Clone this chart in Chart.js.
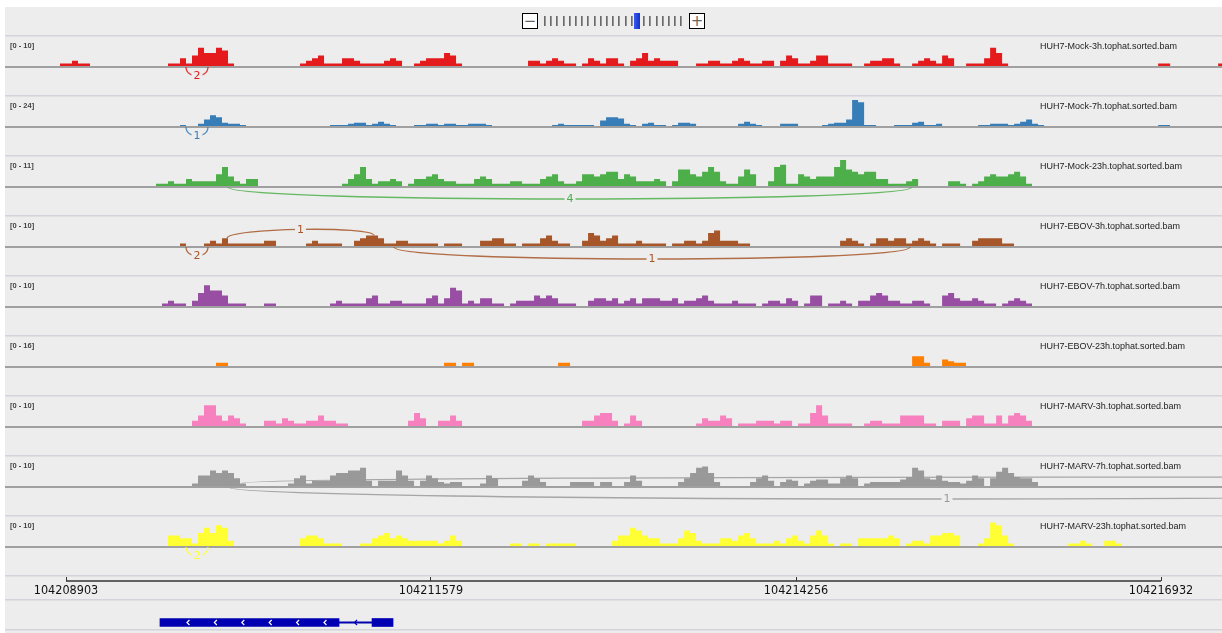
<!DOCTYPE html>
<html>
<head>
<meta charset="utf-8">
<script src="https://cdn.jsdelivr.net/npm/chart.js@4.4.0/dist/chart.umd.min.js"></script>
<style>
  body { margin: 0; width: 1222px; height: 633px; overflow: hidden; position: relative; background: #fff; }
  #panel { position: absolute; left: 5px; top: 7px; width: 1217px; height: 626px; background: #ededed; }
  canvas { position: absolute; left: 5px; }
  .zb { position: absolute; top: 13px; width: 14px; height: 14px; border: 1px solid #000; background: #fff;
        font: 15px/14px "DejaVu Sans", sans-serif; color: #666; text-align: center; }
  .zt { position: absolute; top: 16px; width: 2px; height: 10px; background: linear-gradient(90deg, #555, #aaa); }
  .zthumb { position: absolute; top: 13px; width: 6px; height: 16px; background: linear-gradient(90deg, #3b5cf0, #1330c8); }
</style>
</head>
<body>
<div id="panel"></div>
<div class="zb" style="left:522px">−</div>
<div id="zticks"></div>
<div class="zb" style="left:689px">+</div>
<script>
// coverage bins: 44 bp each, first bin starts here
const BIN_START = 104208859;
const BIN_SIZE = 44;

const rulerTicks = [104208903, 104211579, 104214256, 104216932];

const trackNames = [
  'HUH7-Mock-3h.tophat.sorted.bam',
  'HUH7-Mock-7h.tophat.sorted.bam',
  'HUH7-Mock-23h.tophat.sorted.bam',
  'HUH7-EBOV-3h.tophat.sorted.bam',
  'HUH7-EBOV-7h.tophat.sorted.bam',
  'HUH7-EBOV-23h.tophat.sorted.bam',
  'HUH7-MARV-3h.tophat.sorted.bam',
  'HUH7-MARV-7h.tophat.sorted.bam',
  'HUH7-MARV-23h.tophat.sorted.bam'
];
const trackRanges = [10, 24, 11, 10, 10, 16, 10, 10, 10];
const trackColors = ['#e41a1c', '#377eb8', '#4daf4a', '#a65628', '#984ea3', '#ff7f00', '#f781bf', '#999999', '#ffff33'];

const mock3h = [1,1,2,1,1, 0,0,0,0,0,0,0,0,0,0,0,0,0, 1,1,3,1,4,7,5,5,7,6,1, 0,0,0,0,0,0,0,0,0,0,0,
  1,2,3,4,1,1,1,3,3,2,1,1,1,1,2,3,2, 0,0, 1,2,3,3,3,5,4,1, 0,0,0,0,0,0,0,0,0,0,0, 2,2,1,2,3,2,1,1, 0,
  1,3,2,1,3,3,1, 0, 2,3,5,2,3,2,2,2, 0,0,0, 1,1,2,2,1,1,2,3,2,1,1,2,2, 0, 2,4,3,1,1,2,4,4,1,1,1,1, 0,0,
  1,2,2,3,3,1, 0,0, 1,2,3,2,1,4,3, 0,0, 1,1,1,3,7,5,1,
  0,0,0,0,0,0,0,0,0,0,0,0,0,0,0,0,0,0,0,0,0,0,0,0,0, 1,1, 0,0,0,0,0,0,0,0, 1];
const mock7h = [0,0,0,0,0,0,0,0,0,0,0,0,0,0,0,0,0,0,0,0, 1, 0,0, 2,6,10,8,3,2,2,1,
  0,0,0,0,0,0,0,0,0,0,0,0,0,0, 1,1,1,2,3,3,1,2,4,2,1, 0,0,0, 1,1,2,2,1,2,2,1,1,2,2,2,1,
  0,0,0,0,0,0,0,0,0,0, 1,2,1,1,1,1,1, 0, 5,8,8,7,2,1, 0, 2,3,1,1, 0, 1,3,3,2, 0,0,0,0,0,0,0,
  2,4,2,1, 0,0,0, 2,2,2, 0,0,0,0, 1,2,3,3,6,24,22,1,1, 0,0,0, 1,1,1,3,4,1,1,2, 0,0,0,0,0,0,
  1,1,2,2,2,1,2,4,6,2,1, 0,0,0,0,0,0,0,0,0,0,0,0,0,0,0,0,0,0,0, 1,1];
const mock23h = [0,0,0,0,0,0,0,0,0,0,0,0,0,0,0,0, 1,1,2,1,1,3,2,2,2,2,5,8,4,2,1,3,3,
  0,0,0,0,0,0,0,0,0,0,0,0,0,0, 1,3,5,8,3,1,2,2,3,2, 0,
  1,3,3,4,5,3,2,2,1,1,1,3,4,3,1,1,1,2,2,1,1,1,3,4,5,2,1,1,2,5,5,4,5,6,6,3,5,4,2,2,2,3,2, 0,
  2,7,7,5,4,6,8,6,2,1,1,4,7,5, 0,0, 2,8,9,1,1,5,4,3,4,4,4,8,11,7,6,5,6,6,3,3,1,1,1,2,3,
  0,0,0,0,0, 2,2,1, 0, 1,2,4,5,4,4,5,6,4,1];
const ebov3h = [0,0,0,0,0,0,0,0,0,0,0,0,0,0,0,0,0,0,0,0, 1, 0,0,0, 1,2,1,3,1,1,1,1,1,1,2,2, 0,0,0,0,0,
  1,2,1,1,1,1, 0,0, 2,3,4,4,3,1,1,2,2,1,1,1,1,1, 0, 1,1,1, 0,0,0, 2,2,3,3,1,1, 0, 1,1,1,3,4,2,1,1, 0,0,
  2,5,4,2,3,4,1,1,1,2,1,1,1,1, 0, 1,1,2,2,1,2,5,6,2,2,2,1,1, 0,0,0,0,0,0,0,0,0,0,0,0,0,0,0,
  2,3,2,1, 0, 1,3,3,2,3,3,1,2,3,2,1, 0, 1,1,1, 0,0, 2,3,3,3,3,1,1];
const ebov7h = [0,0,0,0,0,0,0,0,0,0,0,0,0,0,0,0,0, 1,2,1,1, 0, 2,5,8,6,6,4,1,1,1, 0,0,0, 1,1,
  0,0,0,0,0,0,0,0,0, 1,2,1,1,1,1,3,4,1,1,2,2,1,1,1,1,3,4,1,3,7,6,1,2,1,3,3,1,1, 0,
  1,2,2,2,4,3,4,3,1,1,1, 0,0, 2,3,3,2,3,1,2,3,1,3,3,3,2,2,3,1,2,2,3,4,2,1,1,1,2,1,1,1, 0,
  1,2,2,1,3,2, 0, 1,4,4, 0, 1,1,2,1, 0, 2,2,4,5,4,2,2,1,1,2,2,1, 0,0, 4,5,3,2,2,3,2,1,1, 0, 1,2,3,2,1];
const ebov23h = [0,0,0,0,0,0,0,0,0,0,0,0,0,0,0,0,0,0,0,0,0,0,0,0,0,0, 2,2,
  0,0,0,0,0,0,0,0,0,0,0,0,0,0,0,0,0,0,0,0,0,0,0,0,0,0,0,0,0,0,0,0,0,0,0,0, 2,2, 0, 2,2,
  0,0,0,0,0,0,0,0,0,0,0,0,0,0, 2,2,
  0,0,0,0,0,0,0,0,0,0,0,0,0,0,0,0,0,0,0,0,0,0,0,0,0,0,0,0,0,0,0,0,0,0,0,0,0,0,0,0,0,0,0,0,0,0,0,0,0,0,0,0,0,0,0,0,0,
  6,6,2, 0,0, 4,3,2,2];
const marv3h = [0,0,0,0,0,0,0,0,0,0,0,0,0,0,0,0,0,0,0,0,0,0, 2,4,8,8,4,2,4,3,1, 0,0,0,
  2,2,1,3,2,1,1,2,2,4,2,2,1,1, 0,0,0,0,0,0,0,0,0,0, 2,5,3, 0,0, 2,2,4,2,
  0,0,0,0,0,0,0,0,0,0,0,0,0,0,0,0,0,0,0,0, 2,2,4,5,5,2, 0, 1,4,2, 0,0,0,0,0,0,0,0,0,
  1,3,2,2,4,3, 0, 1,1,1,2,2,2,1,2,2, 0, 1,1,5,8,4,1,1,1,1, 0,0, 1,2,2,1,1,1,4,4,4,4,1,1, 0,
  2,2,2, 0, 3,4,4,1,1,4,1,4,5,4,2];
const marv7h = [0,0,0,0,0,0,0,0,0,0,0,0,0,0,0,0,0,0,0,0,0,0, 1,4,4,6,5,6,5,3,1, 0,0,0,0,0,0,0,
  1,3,4,1,2,2,2,4,5,5,6,6,7,2, 0, 2,2,2,6,4,2, 0, 2,4,3,1.5,1,1.5,1.5, 0,0,0, 1,4,3, 0,0,0,0,
  2,4,3,1.5, 0,0,0,0, 1.5,1.5,1.5,1.5, 0, 1.5,1.5, 0,0, 1.5,4,2, 0,0,0,0,0,0,
  1.5,3,5,7,7.5,5,1.5, 0,0,0,0,0, 1.5,3,4,2, 0, 1.5,2.5,2, 0, 1,2,2.5,2.5,1,1,3,4,3, 0,
  1,1.5,1.5,1.5,1.5,1.5,2.5,3.5,7,6,3,2.5,4,2,1.5,1.5,1,2,4,3, 0, 3,5.5,7,5,3.5,3,3,1.5];
const marv23h = [0,0,0,0,0,0,0,0,0,0,0,0,0,0,0,0,0,0, 4,4,3,3,1,5,7,5,8,7,2, 0,0,0,0,0,0,0,0,0,0,0,
  3,4,4,3,1,1,1, 0,0,0, 1,1,3,4,5,3,4,3,2,2,2,2,2,1,2,4,2, 0,0,0,0,0,0,0,0, 1,1, 0, 1,1, 0, 1,1,1,1,1,
  0,0,0,0,0,0, 2,4,4,7,6,4,3,3,1,1,1,3,6,5,2,1,1,1,3,3,2,4,5,3,1,1,1,2,1,3,4,2,1,4,6,4,1, 0,
  1,1, 0, 3,3,3,3,3,4,3, 0, 1,2,2,1,4,4,5,5,4, 0,0,0, 1,3,9,8,4,1, 0,0,0,0,0,0,0,0,0,
  1,1,2,1, 0,0, 2,2,1];

// splice junctions: [start, end, reads, side]
const mock3hJunctions = [[104209783, 104209944, 2, 'below']];
const mock7hJunctions = [[104209783, 104209944, 1, 'below']];
const mock23hJunctions = [[104210091, 104215106, 4, 'below']];
const ebov3hJunctions = [
  [104209783, 104209944, 2, 'below'],
  [104210084, 104211161, 1, 'above'],
  [104211308, 104215092, 1, 'below']
];
const marv7hJunctions = [
  [104210194, 104225284, 1, 'above'],
  [104210091, 104220635, 1, 'below']
];
const marv23hJunctions = [[104209783, 104209944, 2, 'below']];

const geneExons = [[104209592, 104210905], [104211147, 104211301]];
const geneIntrons = [[104210905, 104211147]];
const GENE_COLOR = '#0000b2';

const coverage = [mock3h, mock7h, mock23h, ebov3h, ebov7h, ebov23h, marv3h, marv7h, marv23h];
const junctions = [mock3hJunctions, mock7hJunctions, mock23hJunctions, ebov3hJunctions, [], [], [], marv7hJunctions, marv23hJunctions];

// view window: first ruler tick at x=66, last at x=1161 of the page
const bpPerPx = (rulerTicks[3] - rulerTicks[0]) / 1095;
const VIEW_MIN = rulerTicks[0] - 61 * bpPerPx;
const VIEW_MAX = VIEW_MIN + 1217 * bpPerPx;

// zoom widget
(function () {
  const box = document.getElementById('zticks');
  for (let i = 0; i < 23; i++) {
    const d = document.createElement('div');
    const left = 544 + i * 6.2;
    if (i === 15) { d.className = 'zthumb'; d.style.left = (left - 3) + 'px'; }
    else { d.className = 'zt'; d.style.left = left + 'px'; }
    box.appendChild(d);
  }
})();

function coverageAt(bins, pos) {
  return bins[Math.floor((pos - BIN_START) / BIN_SIZE)] || 0;
}

function makeCanvas(top, height) {
  const c = document.createElement('canvas');
  c.width = 1217; c.height = height;
  c.style.top = top + 'px';
  document.body.appendChild(c);
  return c;
}

const trackDecor = {
  id: 'trackDecor',
  afterDatasetsDraw(chart, args, opts) {
    const { ctx, width } = chart;
    const xs = chart.scales.x, ys = chart.scales.y;
    const base = ys.getPixelForValue(0);
    ctx.save();
    ctx.fillStyle = '#d3d3db';
    ctx.fillRect(0, 0, width, 1.5);
    ctx.fillStyle = '#a0a0a0';
    ctx.fillRect(0, base, width, 2);

    opts.junctions.forEach(([s, e, n, side]) => {
      const x0 = xs.getPixelForValue(s), x1 = xs.getPixelForValue(e);
      let y0, y1, h;
      if (side === 'above') {
        y0 = ys.getPixelForValue(coverageAt(opts.bins, s));
        y1 = ys.getPixelForValue(coverageAt(opts.bins, e));
        h = -10;
      } else {
        y0 = y1 = base + 1;
        h = Math.min(16, (x1 - x0) * 0.55);
      }
      ctx.globalAlpha = 0.85;
      ctx.strokeStyle = opts.color;
      ctx.lineWidth = 1.3;
      ctx.beginPath();
      ctx.moveTo(x0, y0);
      ctx.bezierCurveTo(x0, y0 + h, x1, y1 + h, x1, y1);
      ctx.stroke();
      ctx.globalAlpha = 1;
      const lx = (x0 + x1) / 2, ly = (y0 + y1) / 2 + 0.75 * h;
      ctx.font = '11px "DejaVu Sans"';
      const w = ctx.measureText(String(n)).width;
      ctx.fillStyle = '#ededed';
      ctx.fillRect(lx - w / 2 - 2, ly - 5, w + 4, 10);
      ctx.fillStyle = opts.color;
      ctx.textAlign = 'center';
      ctx.textBaseline = 'middle';
      ctx.fillText(String(n), lx, ly + 0.5);
    });

    ctx.textAlign = 'left';
    ctx.textBaseline = 'middle';
    ctx.fillStyle = '#444';
    ctx.font = 'bold 7.5px Arial';
    ctx.fillText('[0 - ' + opts.range + ']', 5, 11);
    ctx.fillStyle = '#222';
    ctx.font = '9px Arial';
    ctx.fillText(opts.name, 1035, 11.5);
    ctx.restore();
  }
};

trackNames.forEach((name, i) => {
  const bins = coverage[i];
  const range = trackRanges[i];
  const pts = [];
  bins.forEach((v, k) => {
    pts.push({ x: BIN_START + k * BIN_SIZE, y: v });
    pts.push({ x: BIN_START + (k + 1) * BIN_SIZE, y: v });
  });
  new Chart(makeCanvas(35 + 60 * i, 60), {
    type: 'line',
    data: {
      datasets: [{
        data: pts,
        fill: 'origin',
        backgroundColor: trackColors[i],
        borderColor: 'transparent',
        borderWidth: 0,
        pointRadius: 0,
        tension: 0
      }]
    },
    options: {
      responsive: false,
      animation: false,
      events: [],
      layout: { padding: 0 },
      plugins: {
        legend: { display: false },
        tooltip: { enabled: false },
        trackDecor: { name, range, color: trackColors[i], bins, junctions: junctions[i] }
      },
      scales: {
        x: { type: 'linear', min: VIEW_MIN, max: VIEW_MAX, display: false },
        y: { min: -range * 29 / 26, max: range * 31 / 26, display: false }
      }
    },
    plugins: [trackDecor]
  });
});

// ruler
new Chart(makeCanvas(575, 24), {
  type: 'line',
  data: {
    datasets: [{
      data: [{ x: rulerTicks[0], y: 0 }, { x: rulerTicks[rulerTicks.length - 1], y: 0 }],
      borderColor: '#333',
      borderWidth: 1.5,
      pointRadius: 0,
      clip: false
    }]
  },
  options: {
    responsive: false,
    animation: false,
    events: [],
    layout: { padding: { top: 2 } },
    plugins: { legend: { display: false }, tooltip: { enabled: false } },
    scales: {
      x: {
        type: 'linear', min: VIEW_MIN, max: VIEW_MAX,
        afterBuildTicks: s => { s.ticks = rulerTicks.map(v => ({ value: v })); },
        afterFit: s => { s.height = 18; },
        grid: { drawTicks: false, color: '#333', lineWidth: 1 },
        border: { display: false },
        ticks: {
          autoSkip: false, maxRotation: 0, padding: 2, color: '#111',
          font: { family: '"DejaVu Sans Condensed", "DejaVu Sans"', size: 12.5 },
          callback: v => String(v)
        }
      },
      y: { display: false, min: 0, max: 1 }
    }
  },
  plugins: [{
    id: 'rulerSep',
    afterDraw(chart) {
      chart.ctx.fillStyle = '#d3d3db';
      chart.ctx.fillRect(0, 0, chart.width, 1.5);
    }
  }]
});

// gene
new Chart(makeCanvas(599, 34), {
  type: 'bar',
  data: {
    labels: ['gene'],
    datasets: [
      { data: geneExons.map(e => ({ x: e, y: 'gene' })), backgroundColor: GENE_COLOR, barThickness: 8, grouped: false },
      { data: geneIntrons.map(e => ({ x: e, y: 'gene' })), backgroundColor: GENE_COLOR, barThickness: 1.2, grouped: false }
    ]
  },
  options: {
    indexAxis: 'y',
    responsive: false,
    animation: false,
    events: [],
    layout: { padding: { top: 19, bottom: 6 } },
    plugins: { legend: { display: false }, tooltip: { enabled: false } },
    scales: {
      x: { type: 'linear', min: VIEW_MIN, max: VIEW_MAX, display: false },
      y: { display: false }
    }
  },
  plugins: [{
    id: 'geneDecor',
    afterDatasetsDraw(chart) {
      const { ctx, width } = chart;
      const xs = chart.scales.x;
      const cy = chart.getDatasetMeta(0).data[0].y;
      ctx.save();
      ctx.fillStyle = '#d3d3db';
      ctx.fillRect(0, 0, width, 1.5);
      ctx.fillRect(0, 30, width, 1.5);
      const chevron = (px, color) => {
        ctx.strokeStyle = color;
        ctx.lineWidth = 1.2;
        ctx.beginPath();
        ctx.moveTo(px + 1.5, cy - 2.5);
        ctx.lineTo(px - 1, cy);
        ctx.lineTo(px + 1.5, cy + 2.5);
        ctx.stroke();
      };
      geneExons.forEach(([s, e]) => {
        const x0 = xs.getPixelForValue(s), x1 = xs.getPixelForValue(e);
        for (let px = x0 + 28; px < x1 - 10; px += 27.4) chevron(px, '#fff');
      });
      geneIntrons.forEach(([s, e]) => {
        chevron((xs.getPixelForValue(s) + xs.getPixelForValue(e)) / 2, GENE_COLOR);
      });
      ctx.restore();
    }
  }]
});
</script>
</body>
</html>
